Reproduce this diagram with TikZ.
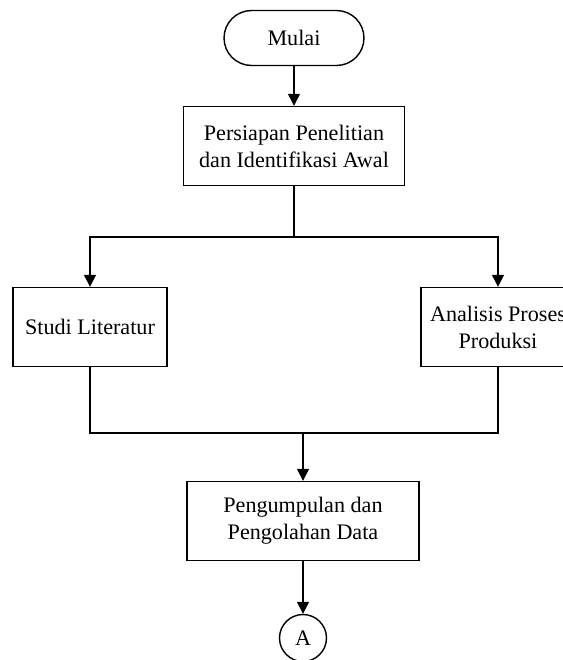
\documentclass[tikz,border=0pt]{standalone}
\usepackage{fontspec}
\setmainfont{Liberation Serif}
\usetikzlibrary{arrows.meta}

\tikzset{
  teks/.style={font=\fontsize{12.6}{15.3}\selectfont, align=center},
  proses/.style={teks, draw, line width=0.8pt, fill=white, minimum height=1.58cm, inner sep=2pt},
  terminal/.style={teks, draw, line width=0.8pt, rounded corners=0.55cm, minimum width=2.8cm, minimum height=1.1cm},
  konektor/.style={teks, draw, line width=0.8pt, circle, minimum size=0.94cm, inner sep=0pt},
  panah/.style={line width=0.8pt, -{Triangle[length=0.24cm, width=0.24cm]}},
  garis/.style={line width=0.8pt}
}

\begin{document}
\begin{tikzpicture}[x=0.02cm, y=-0.02cm]
  \path[use as bounding box] (0,0) rectangle (563,660);
  \clip (0,0) rectangle (563,660);

  \node[terminal] (mulai) at (294,38) {Mulai};
  \node[proses, minimum width=4.42cm] (persiapan) at (294,146) {Persiapan Penelitian\\dan Identifikasi Awal};
  \node[proses, minimum width=3.08cm] (studi) at (90,327) {Studi Literatur};
  \node[proses, minimum width=3.08cm] (analisis) at (498,327) {Analisis Proses\\Produksi};
  \node[proses, minimum width=4.64cm] (kumpul) at (303,521) {Pengumpulan dan\\Pengolahan Data};
  \node[konektor] (a) at (303,638) {A};

  \coordinate (cabang) at (294,237);
  \coordinate (gabung) at (303,433);

  \draw[panah] (mulai) -- (persiapan);
  \draw[garis] (persiapan) -- (cabang);
  \draw[panah] (cabang) -| (studi);
  \draw[panah] (cabang) -| (analisis);
  \draw[garis] (studi) |- (gabung);
  \draw[garis] (analisis) |- (gabung);
  \draw[panah] (gabung) -- (kumpul);
  \draw[panah] (kumpul) -- (a);
\end{tikzpicture}
\end{document}
